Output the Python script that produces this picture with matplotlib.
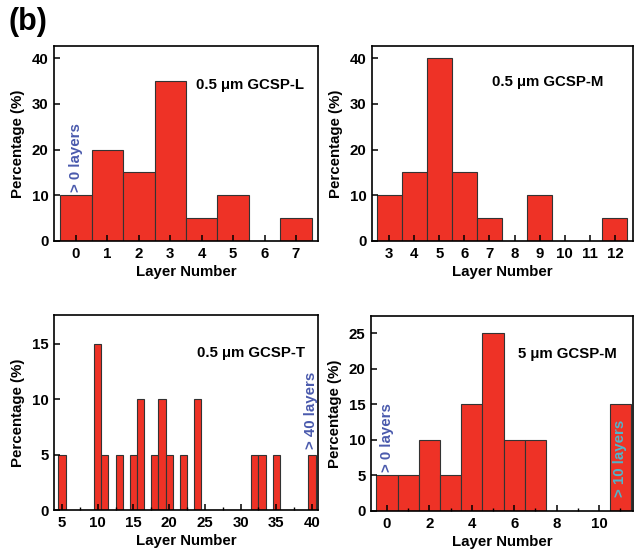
import matplotlib
matplotlib.use("Agg")
import matplotlib.pyplot as plt
from matplotlib.ticker import MultipleLocator

plt.rcParams['font.family'] = ['Liberation Sans', 'DejaVu Sans']
plt.rcParams['font.weight'] = 'bold'
plt.rcParams['font.size'] = 11

# data
layers_L = [0, 1, 2, 3, 4, 5, 6, 7]
pct_L = [10, 20, 15, 35, 5, 10, 0, 5]

layers_M = [3, 4, 5, 6, 7, 8, 9, 10, 11, 12]
pct_M = [10, 15, 40, 15, 5, 0, 10, 0, 0, 5]

layers_T = [5, 10, 11, 13, 15, 16, 18, 19, 20, 22, 24, 32, 33, 35, 40]
pct_T = [5, 15, 5, 5, 5, 10, 5, 10, 5, 5, 10, 5, 5, 5, 5]

layers_5M = [0, 1, 2, 3, 4, 5, 6, 7, 11]
pct_5M = [5, 5, 10, 5, 15, 25, 10, 10, 15]

RED = '#ee3226'
BLUE = '#4a5aad'
CYAN = '#4fb6cc'
FS = 10.8

W, H = 635, 551
fig = plt.figure(figsize=(W / 100, H / 100), dpi=100)


def axes_px(l, r, t, b):
    return fig.add_axes([l / W, 1 - b / H, (r - l) / W, (b - t) / H])


def style(ax, xlim, ylim, xmaj, ymaj, xmin=None):
    ax.set_xlim(*xlim)
    ax.set_ylim(*ylim)
    ax.xaxis.set_major_locator(MultipleLocator(xmaj))
    ax.yaxis.set_major_locator(MultipleLocator(ymaj))
    if xmin:
        ax.xaxis.set_minor_locator(MultipleLocator(xmin))
    ax.tick_params(which='major', direction='in', length=4, width=1.1, labelsize=FS, pad=4)
    ax.tick_params(which='minor', direction='in', length=2.5, width=1.0)
    for s in ax.spines.values():
        s.set_linewidth(1.2)
    ax.set_xlabel('Layer Number', fontsize=FS, fontweight='bold', labelpad=3)
    ax.set_ylabel('Percentage (%)', fontsize=FS, fontweight='bold', labelpad=5)


# panel 1
ax1 = axes_px(54, 318, 46, 241)
ax1.bar(layers_L, pct_L, width=1, color=RED, edgecolor='#333333', linewidth=0.8)
style(ax1, (-0.7, 7.7), (0, 42.7), 1, 10)
ax1.text(3.83, 34.1, '0.5 μm GCSP-L', ha='left', va='center', fontsize=FS, fontweight='bold')
ax1.text(0, 10.8, '> 0 layers', rotation=90, ha='center', va='bottom', color=BLUE,
         fontsize=FS, fontweight='bold')

# panel 2
ax2 = axes_px(372, 633, 46, 241)
ax2.bar(layers_M, pct_M, width=1, color=RED, edgecolor='#333333', linewidth=0.8)
style(ax2, (2.32, 12.72), (0, 42.7), 1, 10)
ax2.text(7.1, 34.8, '0.5 μm GCSP-M', ha='left', va='center', fontsize=FS, fontweight='bold')

# panel 3
ax3 = axes_px(54, 318, 315, 510)
ax3.bar(layers_T, pct_T, width=1, color=RED, edgecolor='#333333', linewidth=0.8)
style(ax3, (3.88, 40.84), (0, 17.6), 5, 5, xmin=2.5)
ax3.text(23.9, 14.2, '0.5 μm GCSP-T', ha='left', va='center', fontsize=FS, fontweight='bold')
ax3.text(39.9, 5.5, '> 40 layers', rotation=90, ha='center', va='bottom', color=BLUE,
         fontsize=FS, fontweight='bold')

# panel 4
ax4 = axes_px(371, 633, 316, 511)
ax4.bar(layers_5M, pct_5M, width=1, color=RED, edgecolor='#333333', linewidth=0.8)
style(ax4, (-0.75, 11.6), (0, 27.4), 2, 5, xmin=1)
ax4.text(6.2, 22.05, '5 μm GCSP-M', ha='left', va='center', fontsize=FS, fontweight='bold')
ax4.text(0, 5.5, '> 0 layers', rotation=90, ha='center', va='bottom', color=BLUE,
         fontsize=FS, fontweight='bold')
ax4.text(11, 2.0, '> 10 layers', rotation=90, ha='center', va='bottom', color=CYAN,
         fontsize=FS, fontweight='bold')

fig.text(8 / W, 1 - 22 / H, '(b)', fontsize=22, fontweight='bold', ha='left', va='center')

fig.savefig('out.png', dpi=100)
